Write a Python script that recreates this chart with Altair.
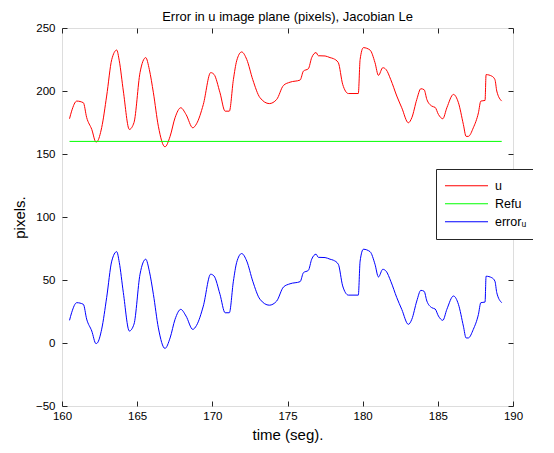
import altair as alt
import pandas as pd

# ---- data ----
time_s = [160.5, 160.64, 160.98, 161.42, 161.64, 161.98, 162.26, 162.35, 162.64, 162.97,
          163.31, 163.64, 163.81, 164.08, 164.48, 164.79, 165.19, 165.57, 165.81, 166.08,
          166.41, 166.85, 167.19, 167.52, 167.9, 168.25, 168.7, 168.95, 169.4, 169.89,
          170.11, 170.51, 170.85, 171.13, 171.4, 171.62, 171.95, 172.29, 172.69, 173.17,
          173.79, 174.28, 174.73, 175.17, 175.84, 176.06, 176.39, 176.61, 176.9, 177.05,
          177.5, 177.83, 178.05, 178.38, 178.67, 179.05, 179.71, 179.83, 180.05, 180.49,
          180.82, 181.05, 181.34, 181.56, 181.87, 182.27, 182.6, 183.04, 183.27, 183.6,
          183.87, 184.09, 184.27, 184.6, 184.82, 185.04, 185.33, 185.6, 186.04, 186.37,
          186.7, 186.88, 187.03, 187.36, 187.7, 187.86, 188.14, 188.21, 188.59, 188.8,
          188.92, 189.25]

u_vals = [178, 184, 192, 190.7, 179, 169.5, 159.5, 160, 171, 196,
          225, 232.5, 224, 200, 169.5, 175, 214.6, 226.5, 217, 198.6,
          172, 155.7, 164, 178.8, 186.7, 181.4, 170.8, 174, 189.3, 214.6,
          213.2, 198.6, 184, 184, 209, 224, 231, 225, 209, 194.7,
          190, 193.3, 204.4, 207, 208.7, 215.8, 217.7, 226.5, 230.5, 228,
          227.8, 226.5, 225.7, 222.5, 205.3, 198, 198, 225, 234.4, 232.5,
          222.5, 212.4, 218.5, 217, 209, 196, 186.7, 174.8, 178.8, 193.3,
          201.8, 201, 193.3, 188, 187, 181.4, 178, 186.7, 197.3, 190.7,
          173.4, 164, 164, 170.8, 182.7, 192, 192.5, 213, 211.8, 209,
          200, 192]

err_vals = [18, 24, 32, 30.7, 19, 9.5, -0.5, 0, 11, 36,
            65, 72.5, 64, 40, 9.5, 15, 54.6, 66.5, 57, 38.6,
            12, -4.3, 4, 18.8, 26.7, 21.4, 10.8, 14, 29.3, 54.6,
            53.2, 38.6, 24, 24, 49, 64, 71, 65, 49, 34.7,
            30, 33.3, 44.4, 47, 48.7, 55.8, 57.7, 66.5, 70.5, 68,
            67.8, 66.5, 65.7, 62.5, 45.3, 38, 38, 65, 74.4, 72.5,
            62.5, 52.4, 58.5, 57, 49, 36, 26.7, 14.8, 18.8, 33.3,
            41.8, 41, 33.3, 28, 27, 21.4, 18, 26.7, 37.3, 30.7,
            13.4, 4, 4, 10.8, 22.7, 32, 32.5, 53, 51.8, 49,
            40, 32]

ref_time = [160.5, 189.25]
ref_vals = [160, 160]

series_names = ["u", "Refu", "error\u1d64"]
series_colors = ["#ff0000", "#00ff00", "#0000ff"]

x_ticks = [160, 165, 170, 175, 180, 185, 190]
y_ticks = [-50, 0, 50, 100, 150, 200, 250]

rows = []
for t, v in zip(time_s, u_vals):
    rows.append({"t": t, "v": v, "s": series_names[0]})
for t, v in zip(ref_time, ref_vals):
    rows.append({"t": t, "v": v, "s": series_names[1]})
for t, v in zip(time_s, err_vals):
    rows.append({"t": t, "v": v, "s": series_names[2]})
df = pd.DataFrame(rows)

W, H = 451, 378
FONT = "Liberation Sans"

xs = alt.Scale(domain=[160, 190], nice=False, zero=False)
ys = alt.Scale(domain=[-50, 250], nice=False, zero=False)

main_x_axis = alt.Axis(orient="bottom", values=x_ticks, title="time (seg).", ticks=False, tickSize=0,
                       domain=False, grid=False, labelFont=FONT, labelFontSize=11.5, labelColor="black",
                       labelPadding=4, titleFont=FONT, titleFontSize=15, titleFontWeight="normal",
                       titleColor="black", titlePadding=6, labelFlush=False)
main_y_axis = alt.Axis(orient="left", values=y_ticks, title="pixels.", ticks=False, tickSize=0,
                       domain=False, grid=False, labelFont=FONT, labelFontSize=11.5, labelColor="black",
                       labelPadding=7, titleFont=FONT, titleFontSize=15, titleFontWeight="normal",
                       titleColor="black", titlePadding=8, labelFlush=False)

def tick_axis(orient, offset, vals):
    return alt.Axis(orient=orient, offset=offset, values=vals, labels=False, ticks=True, tickSize=5,
                    tickColor="#262626", domain=False, grid=False, title=None)

lines = alt.Chart(df).mark_line(strokeWidth=1, interpolate="monotone").encode(
    x=alt.X("t:Q", scale=xs, axis=main_x_axis),
    y=alt.Y("v:Q", scale=ys, axis=main_y_axis),
    color=alt.Color("s:N", scale=alt.Scale(domain=series_names, range=series_colors),
                    legend=alt.Legend(orient="none", legendX=374, legendY=141, title=None,
                                      symbolType="stroke", symbolSize=1850, symbolStrokeWidth=1,
                                      clipHeight=17.5, padding=8, strokeColor="#262626",
                                      fillColor="white", labelFont=FONT, labelFontSize=12.5,
                                      labelColor="black", labelOffset=6, rowPadding=0,
                                      cornerRadius=0)),
    detail="s:N",
)

ghost_a = alt.Chart(df).mark_line(opacity=0).encode(
    x=alt.X("t:Q", scale=xs, axis=tick_axis("top", -H, x_ticks)),
    y=alt.Y("v:Q", scale=ys, axis=tick_axis("right", -W, y_ticks)),
    detail="s:N",
)
ghost_b = alt.Chart(df).mark_line(opacity=0).encode(
    x=alt.X("t:Q", scale=xs, axis=tick_axis("bottom", -H, x_ticks)),
    y=alt.Y("v:Q", scale=ys, axis=tick_axis("left", -W, y_ticks)),
    detail="s:N",
)

chart = alt.layer(lines, ghost_a, ghost_b).resolve_axis(
    x="independent", y="independent"
).properties(
    width=W, height=H,
    title=alt.TitleParams("Error in u image plane (pixels), Jacobian Le", font=FONT, fontSize=13,
                          fontWeight="normal", color="black", offset=-2, anchor="middle"),
    autosize=alt.AutoSizeParams(type="none"),
    padding={"left": 54, "top": 20, "right": 20, "bottom": 40},
).configure_view(stroke="#262626", strokeWidth=1).configure(background="white")

chart.save("out.html", embed_options={"renderer": "svg", "actions": False})
